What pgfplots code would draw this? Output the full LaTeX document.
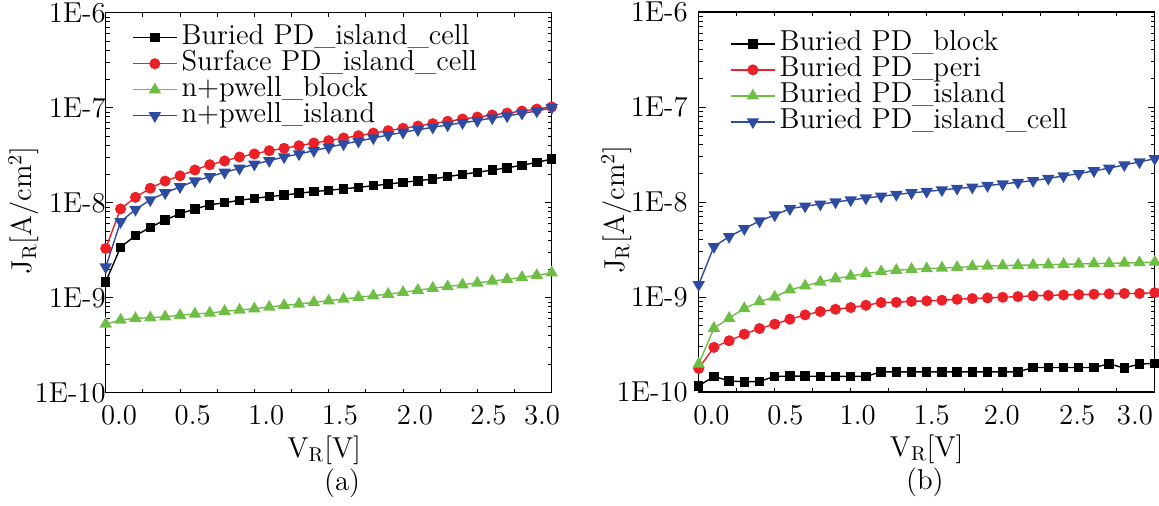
\documentclass[border=0pt]{standalone}
\usepackage{pgfplots}
\usepackage{pgfplotstable}
\pgfplotsset{compat=1.18}
\definecolor{cred}{RGB}{236,32,39}
\definecolor{cgreen}{RGB}{110,190,70}
\definecolor{cblue}{RGB}{45,75,160}

\pgfplotstableread{
x BI SI NB NI
0.0 1.47e-9 3.3e-9 5.28e-10 2.1e-9
0.1 3.4e-9 8.6e-9 5.82e-10 6.3e-9
0.2 4.5e-9 1.14e-8 6.06e-10 8.5e-9
0.3 5.5e-9 1.42e-8 6.16e-10 1.07e-8
0.4 6.6e-9 1.69e-8 6.3e-10 1.27e-8
0.5 7.65e-9 1.92e-8 6.53e-10 1.47e-8
0.6 8.6e-9 2.21e-8 6.74e-10 1.69e-8
0.7 9.5e-9 2.51e-8 6.9e-10 1.88e-8
0.8 1.0e-8 2.75e-8 7.19e-10 2.09e-8
0.9 1.06e-8 3.03e-8 7.42e-10 2.3e-8
1.0 1.11e-8 3.26e-8 7.66e-10 2.54e-8
1.1 1.16e-8 3.53e-8 7.98e-10 2.77e-8
1.2 1.2e-8 3.74e-8 8.31e-10 3.03e-8
1.3 1.26e-8 3.98e-8 8.58e-10 3.26e-8
1.4 1.31e-8 4.25e-8 8.95e-10 3.53e-8
1.5 1.35e-8 4.5e-8 9.3e-10 3.83e-8
1.6 1.4e-8 4.8e-8 9.68e-10 4.15e-8
1.7 1.45e-8 5.07e-8 1.01e-9 4.43e-8
1.8 1.51e-8 5.41e-8 1.05e-9 4.8e-8
1.9 1.57e-8 5.73e-8 1.09e-9 5.16e-8
2.0 1.64e-8 6.07e-8 1.14e-9 5.51e-8
2.1 1.7e-8 6.41e-8 1.2e-9 5.86e-8
2.2 1.78e-8 6.79e-8 1.26e-9 6.22e-8
2.3 1.88e-8 7.19e-8 1.31e-9 6.58e-8
2.4 1.99e-8 7.6e-8 1.37e-9 6.95e-8
2.5 2.09e-8 7.98e-8 1.43e-9 7.3e-8
2.6 2.21e-8 8.37e-8 1.5e-9 7.8e-8
2.7 2.33e-8 8.78e-8 1.56e-9 8.18e-8
2.8 2.48e-8 9.22e-8 1.64e-9 8.73e-8
2.9 2.66e-8 9.68e-8 1.72e-9 9.22e-8
3.0 2.88e-8 1.02e-7 1.83e-9 1.0e-7
}\dataA

\pgfplotstableread{
x BB BP BI BC
0.0 1.16e-10 1.77e-10 1.97e-10 1.35e-9
0.1 1.46e-10 2.95e-10 4.7e-10 3.39e-9
0.2 1.31e-10 3.46e-10 5.98e-10 4.32e-9
0.3 1.28e-10 4.06e-10 7.57e-10 5.24e-9
0.4 1.29e-10 4.66e-10 8.95e-10 6.3e-9
0.5 1.46e-10 5.18e-10 1.0e-9 7.3e-9
0.6 1.47e-10 5.84e-10 1.19e-9 8.5e-9
0.7 1.47e-10 6.48e-10 1.31e-9 9.04e-9
0.8 1.46e-10 7.03e-10 1.44e-9 9.49e-9
0.9 1.46e-10 7.43e-10 1.56e-9 1.0e-8
1.0 1.46e-10 7.74e-10 1.66e-9 1.05e-8
1.1 1.46e-10 8.18e-10 1.77e-9 1.1e-8
1.2 1.63e-10 8.74e-10 1.85e-9 1.15e-8
1.3 1.63e-10 8.8e-10 1.91e-9 1.2e-8
1.4 1.63e-10 9.0e-10 1.96e-9 1.25e-8
1.5 1.63e-10 9.1e-10 1.99e-9 1.29e-8
1.6 1.63e-10 9.25e-10 2.02e-9 1.34e-8
1.7 1.63e-10 9.46e-10 2.05e-9 1.39e-8
1.8 1.63e-10 9.63e-10 2.09e-9 1.43e-8
1.9 1.63e-10 9.78e-10 2.12e-9 1.49e-8
2.0 1.63e-10 9.94e-10 2.14e-9 1.55e-8
2.1 1.63e-10 1.01e-9 2.16e-9 1.61e-8
2.2 1.81e-10 1.03e-9 2.17e-9 1.68e-8
2.3 1.81e-10 1.04e-9 2.19e-9 1.77e-8
2.4 1.81e-10 1.05e-9 2.21e-9 1.88e-8
2.5 1.81e-10 1.06e-9 2.23e-9 1.99e-8
2.6 1.81e-10 1.07e-9 2.25e-9 2.13e-8
2.7 1.98e-10 1.08e-9 2.26e-9 2.27e-8
2.8 1.79e-10 1.09e-9 2.28e-9 2.46e-8
2.9 1.97e-10 1.09e-9 2.3e-9 2.64e-8
3.0 2.0e-10 1.11e-9 2.33e-9 2.86e-8
}\dataB

\newcommand{\fs}{\fontsize{14.4}{16}\selectfont}

\pgfplotsset{
  legend image code/.code={\draw[mark repeat=2,mark phase=2,#1] plot coordinates {(0pt,0pt) (11pt,0pt) (22pt,0pt)};},
  sq/.style={black, line width=0.7pt, mark=square*, mark size=2pt, mark options={solid}},
  ci/.style={cred, line width=0.7pt, mark=*, mark size=2.4pt, mark options={solid}},
  tu/.style={cgreen, line width=0.7pt, mark=triangle*, mark size=2.9pt, mark options={solid}},
  td/.style={cblue, line width=0.7pt, mark=triangle*, mark size=2.9pt, mark options={solid, rotate=180}},
}

\begin{document}
\begin{tikzpicture}
\pgfplotsset{
  every axis/.append style={
    scale only axis, height=190pt,
    ymin=1e-10, ymax=1e-6, xmin=0, xmax=3,
    ytick={1e-10,1e-9,1e-8,1e-7,1e-6},
    yticklabels={1E-10,1E-9,1E-8,1E-7,1E-6},
    minor ytick={2e-10,3e-10,4e-10,5e-10,6e-10,7e-10,8e-10,9e-10,
                 2e-9,3e-9,4e-9,5e-9,6e-9,7e-9,8e-9,9e-9,
                 2e-8,3e-8,4e-8,5e-8,6e-8,7e-8,8e-8,9e-8,
                 2e-7,3e-7,4e-7,5e-7,6e-7,7e-7,8e-7,9e-7},
    minor xtick={0,0.25,...,3},
    xticklabels={0.0,0.5,1.0,1.5,2.0,2.5,3.0},
    tick align=inside, tick pos=both,
    major x tick style={draw=none},
    major tick length=3.5pt, minor tick length=2pt,
    axis line style={line width=0.6pt},
    every tick/.append style={black, line width=0.5pt},
    font=\fs, ticklabel style={font=\fs},
    xticklabel style={yshift=-3pt},
    clip=false,
    xlabel={V$_\mathrm{R}$[V]},
    ylabel={J$_\mathrm{R}$[A/cm$^2$]},
    ylabel style={at={(axis description cs:0,0.48)}, anchor=center, yshift=41pt},
    legend style={draw=none, fill=none, font=\fs, anchor=north west,
      nodes={inner sep=0pt, text height=10pt, text depth=3pt},
      column sep=2pt, row sep=0pt},
    legend cell align=left,
  },
}
\useasboundingbox (0,0) rectangle (579.5pt,252.5pt);
\begin{semilogyaxis}[width=223pt,
  at={(52.85pt,246.15pt)}, anchor=north west,
  xtick={0.09,0.585,1.08,1.575,2.08,2.575,2.935},
  yticklabel style={xshift=3.5pt},
  xlabel style={at={(axis description cs:0.49,0)}, anchor=center, yshift=-28.6pt},
  legend style={at={(axis description cs:0.045,0.98)}},
]
\addplot[sq] table[x=x,y=BI] {\dataA};
\addlegendentry{Buried PD\_island\_cell}
\addplot[ci] table[x=x,y=SI] {\dataA};
\addlegendentry{Surface PD\_island\_cell}
\addplot[tu] table[x=x,y=NB] {\dataA};
\addlegendentry{n+pwell\_block}
\addplot[td] table[x=x,y=NI] {\dataA};
\addlegendentry{n+pwell\_island}
\node[font=\fs] at (rel axis cs:0.53,-0.238) {(a)};
\end{semilogyaxis}

\begin{semilogyaxis}[width=228pt,
  at={(349.35pt,246.5pt)}, anchor=north west,
  xtick={0.084,0.571,1.046,1.533,1.994,2.49,2.87},
  yticklabel style={xshift=-2pt},
  xlabel style={at={(axis description cs:0.5,0)}, anchor=center, yshift=-28.6pt},
  legend style={at={(axis description cs:0.055,0.962)}},
]
\addplot[sq] table[x=x,y=BB] {\dataB};
\addlegendentry{Buried PD\_block}
\addplot[ci] table[x=x,y=BP] {\dataB};
\addlegendentry{Buried PD\_peri}
\addplot[tu] table[x=x,y=BI] {\dataB};
\addlegendentry{Buried PD\_island}
\addplot[td] table[x=x,y=BC] {\dataB};
\addlegendentry{Buried PD\_island\_cell}
\node[font=\fs] at (rel axis cs:0.496,-0.238) {(b)};
\end{semilogyaxis}
\end{tikzpicture}
\end{document}
